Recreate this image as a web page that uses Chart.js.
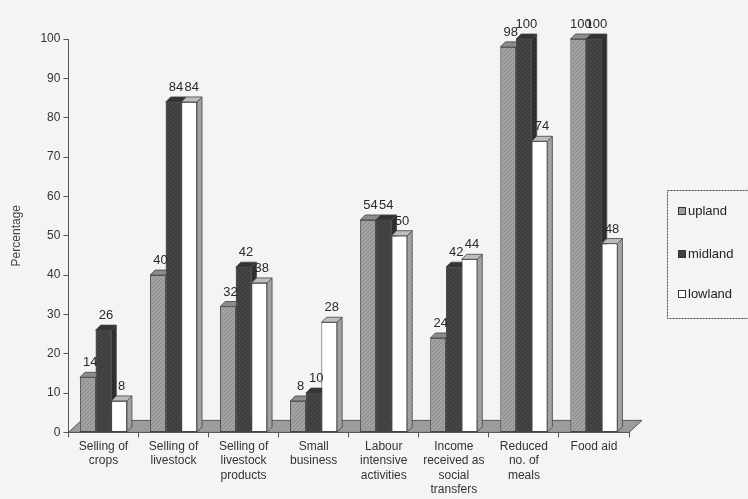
<!DOCTYPE html>
<html>
<head>
<meta charset="utf-8">
<script src="https://cdn.jsdelivr.net/npm/chart.js@4.4.1/dist/chart.umd.min.js"></script>
<style>
  html, body { margin: 0; padding: 0; background: #f4f4f2; }
  #wrap { width: 748px; height: 499px; }
</style>
</head>
<body>
<div id="wrap"><canvas id="chart" width="748" height="499"></canvas></div>
<script>
// データ
const categories = [
  ['Selling of', 'crops'],
  ['Selling of', 'livestock'],
  ['Selling of', 'livestock', 'products'],
  ['Small', 'business'],
  ['Labour', 'intensive', 'activities'],
  ['Income', 'received as', 'social', 'transfers'],
  ['Reduced', 'no. of', 'meals'],
  ['Food aid']
];
const seriesNames = ['upland', 'midland', 'lowland'];
const upland  = [14, 40, 32, 8, 54, 24, 98, 100];
const midland = [26, 84, 42, 10, 54, 42, 100, 100];
const lowland = [8, 84, 38, 28, 50, 44, 74, 48];
const yTicks = [0, 10, 20, 30, 40, 50, 60, 70, 80, 90, 100];

const FONT = 'Liberation Sans, Arial, sans-serif';
const DX = 5, DY = -5;          // 棒の奥行き
const FLOOR_DX = 13, FLOOR_DY = -12;

// 斜線パターン
function hatch(base, line) {
  const c = document.createElement('canvas');
  c.width = 4; c.height = 4;
  const g = c.getContext('2d');
  g.fillStyle = base;
  g.fillRect(0, 0, 4, 4);
  g.strokeStyle = line;
  g.lineWidth = 1;
  g.beginPath();
  g.moveTo(0, 4); g.lineTo(4, 0);
  g.stroke();
  return g.createPattern(c, 'repeat');
}

const styles = [
  { front: hatch('#a2a2a2', '#8a8a8a'), side: hatch('#7e7e7e', '#6a6a6a'), top: '#8c8c8c' },
  { front: hatch('#3e3e3e', '#4c4c4c'), side: hatch('#2c2c2c', '#383838'), top: '#333333' },
  { front: '#ffffff', side: hatch('#a6a6a6', '#949494'), top: '#bdbdbd' }
];

// 床を描く
const floorPlugin = {
  id: 'floor',
  beforeDatasetsDraw(chart) {
    const { ctx, chartArea: a } = chart;
    ctx.save();
    ctx.beginPath();
    ctx.moveTo(a.left, a.bottom);
    ctx.lineTo(a.right, a.bottom);
    ctx.lineTo(a.right + FLOOR_DX, a.bottom + FLOOR_DY);
    ctx.lineTo(a.left + FLOOR_DX, a.bottom + FLOOR_DY);
    ctx.closePath();
    ctx.fillStyle = '#9c9c9c';
    ctx.fill();
    ctx.strokeStyle = '#555';
    ctx.lineWidth = 1;
    ctx.stroke();
    ctx.restore();
  }
};

// 3Dの棒と数値ラベル
const bar3dPlugin = {
  id: 'bar3d',
  afterDatasetsDraw(chart) {
    const ctx = chart.ctx;
    const metas = chart.data.datasets.map((d, i) => chart.getDatasetMeta(i));
    ctx.save();
    for (let i = 0; i < categories.length; i++) {
      metas.forEach((meta, di) => {
        const el = meta.data[i];
        const p = el.getProps(['x', 'y', 'base', 'width'], true);
        const l = p.x - p.width / 2, r = p.x + p.width / 2;
        el.draw(ctx);
        ctx.lineWidth = 0.8;
        ctx.strokeStyle = '#444';
        // 側面
        ctx.beginPath();
        ctx.moveTo(r, p.y);
        ctx.lineTo(r + DX, p.y + DY);
        ctx.lineTo(r + DX, p.base + DY);
        ctx.lineTo(r, p.base);
        ctx.closePath();
        ctx.fillStyle = styles[di].side;
        ctx.fill();
        ctx.stroke();
        // 上面
        ctx.beginPath();
        ctx.moveTo(l, p.y);
        ctx.lineTo(l + DX, p.y + DY);
        ctx.lineTo(r + DX, p.y + DY);
        ctx.lineTo(r, p.y);
        ctx.closePath();
        ctx.fillStyle = styles[di].top;
        ctx.fill();
        ctx.stroke();
      });
    }
    // 数値ラベル
    ctx.font = '13px ' + FONT;
    ctx.fillStyle = '#2a2a2a';
    ctx.textAlign = 'center';
    ctx.textBaseline = 'bottom';
    metas.forEach((meta, di) => {
      const values = chart.data.datasets[di].data;
      meta.data.forEach((el, i) => {
        const p = el.getProps(['x', 'y'], true);
        ctx.fillText(String(values[i]), p.x + DX / 2, p.y + DY - 3);
      });
    });
    ctx.restore();
  }
};

// 凡例（枠付き）
const legendPlugin = {
  id: 'boxLegend',
  afterDraw(chart) {
    const ctx = chart.ctx;
    ctx.save();
    ctx.strokeStyle = '#444';
    ctx.lineWidth = 1;
    ctx.setLineDash([2, 1]);
    ctx.strokeRect(667.5, 190.5, 100, 128);
    ctx.setLineDash([]);
    const ys = [211, 254, 294];
    ctx.font = '13px ' + FONT;
    ctx.textBaseline = 'middle';
    ctx.textAlign = 'left';
    seriesNames.forEach((name, i) => {
      ctx.fillStyle = styles[i].front;
      ctx.fillRect(678, ys[i] - 4, 8, 8);
      ctx.strokeStyle = '#333';
      ctx.strokeRect(678.5, ys[i] - 3.5, 7, 7);
      ctx.fillStyle = '#222';
      ctx.fillText(name, 688, ys[i]);
    });
    ctx.restore();
  }
};

const ctx = document.getElementById('chart').getContext('2d');
new Chart(ctx, {
  type: 'bar',
  data: {
    labels: categories,
    datasets: [upland, midland, lowland].map((vals, i) => ({
      label: seriesNames[i],
      data: vals,
      backgroundColor: styles[i].front,
      borderColor: '#444',
      borderWidth: 0.8,
      borderSkipped: false,
      categoryPercentage: 0.67,
      barPercentage: 1.0
    }))
  },
  options: {
    responsive: false,
    animation: false,
    layout: { padding: { top: 39, right: 119, bottom: 0, left: 9 } },
    plugins: {
      legend: { display: false },
      tooltip: { enabled: false }
    },
    scales: {
      x: {
        grid: { display: true, drawOnChartArea: false, drawTicks: true, tickLength: 5, color: '#555' },
        border: { display: true, color: '#555' },
        ticks: { color: '#333', font: { family: FONT, size: 12, lineHeight: 1.2 }, maxRotation: 0, autoSkip: false, padding: 2 }
      },
      y: {
        min: 0,
        max: 100,
        afterBuildTicks(scale) { scale.ticks = yTicks.map(v => ({ value: v })); },
        grid: { display: true, drawOnChartArea: false, drawTicks: true, tickLength: 5, color: '#555' },
        border: { display: true, color: '#555' },
        ticks: { color: '#333', font: { family: FONT, size: 12 }, padding: 3 },
        title: { display: true, text: 'Percentage', color: '#444', font: { family: FONT, size: 12 }, padding: { top: 0, bottom: 14 } }
      }
    }
  },
  plugins: [floorPlugin, bar3dPlugin, legendPlugin]
});
</script>
</body>
</html>
